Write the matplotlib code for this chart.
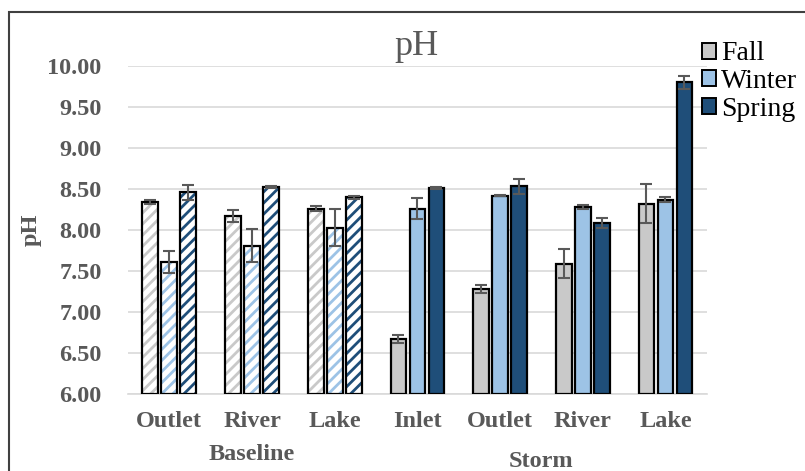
import numpy as np
import matplotlib.pyplot as plt
from matplotlib.patches import Patch, Rectangle
from matplotlib.transforms import blended_transform_factory

plt.rcParams['font.family'] = ['Liberation Serif', 'DejaVu Serif']
plt.rcParams['hatch.linewidth'] = 2.0

sites = ['Outlet', 'River', 'Lake', 'Inlet', 'Outlet', 'River', 'Lake']
groups = ['Baseline', 'Storm']
seasons = ['Fall', 'Winter', 'Spring']
colors = ['#C9C9C9', '#9DC3E6', '#1F4E79']

fall = [8.34, 8.17, 8.26, 6.67, 7.28, 7.59, 8.32]
winter = [7.61, 7.81, 8.03, 8.26, 8.42, 8.28, 8.37]
spring = [8.46, 8.52, 8.40, 8.51, 8.53, 8.09, 9.80]
fall_err = [0.02, 0.07, 0.03, 0.05, 0.05, 0.18, 0.24]
winter_err = [0.13, 0.20, 0.23, 0.13, 0.01, 0.02, 0.03]
spring_err = [0.09, 0.01, 0.02, 0.01, 0.09, 0.06, 0.08]

values = [fall, winter, spring]
errors = [fall_err, winter_err, spring_err]
n_baseline = 3

fig = plt.figure(figsize=(8.05, 4.71), dpi=100)
ax = fig.add_axes([0.159, 0.1635, 0.719, 0.6965])

x = np.arange(len(sites))
width = 0.19
offsets = [-0.23, 0.0, 0.23]
base = 6.0

for vals, errs, col, off in zip(values, errors, colors, offsets):
    vals = np.array(vals)
    for i in range(len(sites)):
        if i < n_baseline:
            # baseline bars: striped fill on white
            ax.bar(x[i] + off, vals[i] - base, width, bottom=base, color='white',
                   hatch='///', edgecolor=col, linewidth=0, zorder=2)
            ax.bar(x[i] + off, vals[i] - base, width, bottom=base, fill=False,
                   edgecolor='black', linewidth=1.6, zorder=3)
        else:
            ax.bar(x[i] + off, vals[i] - base, width, bottom=base, color=col,
                   edgecolor='black', linewidth=1.6, zorder=3)
    ax.errorbar(x + off, vals, yerr=errs, fmt='none', ecolor='#595959',
                elinewidth=1.5, capsize=4, capthick=1.5, zorder=4)

ax.set_xlim(-0.5, len(sites) - 0.5)
ax.set_ylim(6, 10)
ax.set_yticks(np.arange(6, 10.01, 0.5))
ax.set_yticklabels([f'{v:.2f}' for v in np.arange(6, 10.01, 0.5)])
ax.set_xticks(x)
ax.set_xticklabels(sites)
ax.grid(axis='y', color='#D9D9D9', linewidth=1.2, zorder=0)
ax.set_axisbelow(True)
for s in ['left', 'right', 'top']:
    ax.spines[s].set_visible(False)
ax.spines['bottom'].set_color('#D9D9D9')
ax.spines['bottom'].set_linewidth(1.2)
ax.tick_params(length=0, labelsize=17.5, colors='#595959', pad=6)
ax.tick_params(axis='y', pad=19)
ax.tick_params(axis='x', pad=12)
for lab in ax.get_xticklabels() + ax.get_yticklabels():
    lab.set_fontweight('bold')

ax.set_ylabel('pH', fontsize=17.5, fontweight='bold', color='#595959', labelpad=4)
fig.text(0.517, 0.902, 'pH', ha='center', va='center', fontsize=26, color='#595959')

# group labels under the site names
trans = blended_transform_factory(ax.transData, fig.transFigure)
ax.text(1.0, 0.035, groups[0], transform=trans, ha='center', va='center',
        fontsize=17.5, fontweight='bold', color='#595959')
ax.text(4.5, 0.02, groups[1], transform=trans, ha='center', va='center',
        fontsize=17.5, fontweight='bold', color='#595959')

handles = [Patch(facecolor=c, edgecolor='black', linewidth=1.4) for c in colors]
fig.legend(handles, seasons, loc='upper left', bbox_to_anchor=(0.872, 0.912),
           frameon=False, fontsize=20, handlelength=0.5, handleheight=0.5,
           handletextpad=0.2, labelspacing=0.1, borderaxespad=0, borderpad=0)

fig.patches.append(Rectangle((0.011, -0.2), 1.5, 0.2 + 459 / 471, fill=False,
                             edgecolor='#404040', linewidth=1.5,
                             transform=fig.transFigure, figure=fig))

fig.savefig('out.png', dpi=100)
